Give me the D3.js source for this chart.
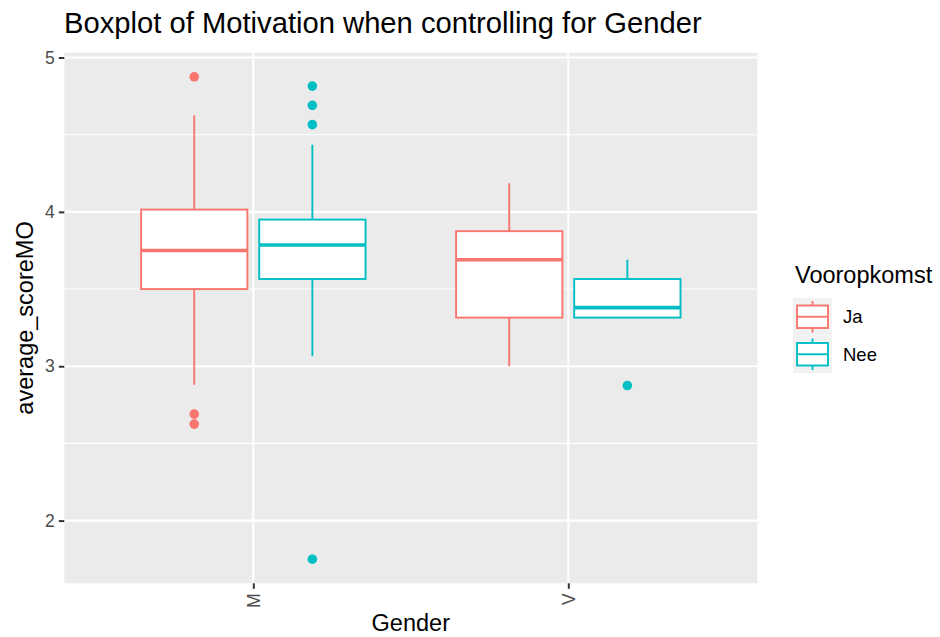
<!DOCTYPE html>
<html><head><meta charset="utf-8">
<script src="https://cdn.jsdelivr.net/npm/d3@7"></script>
<style>body{margin:0;background:#fff}svg{display:block}text{font-family:"Liberation Sans",Arial,Helvetica,sans-serif}</style>
</head><body><svg id="c" width="940" height="637"></svg>
<script>
const categories = ["M", "V"];
const groups = ["Ja", "Nee"];
const colors = ["#F8766D", "#00BFC4"];
// per group, per category
const lowerWhisker = [[2.88, 3.0], [3.065, 3.315]];
const q1 = [[3.5, 3.315], [3.565, 3.315]];
const median = [[3.75, 3.69], [3.785, 3.38]];
const q3 = [[4.015, 3.875], [3.95, 3.565]];
const upperWhisker = [[4.625, 4.185], [4.435, 3.69]];
const outliers = [[[4.875, 2.69, 2.625], []], [[4.815, 4.69, 4.565, 1.75], [2.875]]];
const yTicks = [2, 3, 4, 5];
const yMinor = [2.5, 3.5, 4.5];
const title = "Boxplot of Motivation when controlling for Gender";

const svg = d3.select("#c");
const P = {l: 64.3, r: 757.3, t: 52.7, b: 583.3};

const allVals = [];
groups.forEach((g, gi) => categories.forEach((c, ci) => {
  allVals.push(lowerWhisker[gi][ci], upperWhisker[gi][ci], ...outliers[gi][ci]);
}));
const ext = d3.extent(allVals);
const pad = (ext[1] - ext[0]) * 0.05;
const y = d3.scaleLinear().domain([ext[0] - pad, ext[1] + pad]).range([P.b, P.t]);
// discrete x: expansion 0.6 units each side
const unit = (P.r - P.l) / (categories.length - 1 + 1.2);
const xs = d3.scalePoint().domain(categories).range([P.l + 0.6 * unit, P.r - 0.6 * unit]);
const dodge = d3.scaleBand().domain(groups).range([-0.375 * unit, 0.375 * unit]).padding(0);
const slot = dodge.bandwidth();
const boxW = slot * 0.9;

svg.append("rect").attr("x", P.l).attr("y", P.t).attr("width", P.r - P.l).attr("height", P.b - P.t).attr("fill", "#EBEBEB");
const grid = svg.append("g");
yMinor.forEach(v => grid.append("line").attr("x1", P.l).attr("x2", P.r).attr("y1", y(v)).attr("y2", y(v)).attr("stroke", "#fff").attr("stroke-width", 1.1));
yTicks.forEach(v => grid.append("line").attr("x1", P.l).attr("x2", P.r).attr("y1", y(v)).attr("y2", y(v)).attr("stroke", "#fff").attr("stroke-width", 2.1));
categories.forEach(c => grid.append("line").attr("x1", xs(c)).attr("x2", xs(c)).attr("y1", P.t).attr("y2", P.b).attr("stroke", "#fff").attr("stroke-width", 2.1));

const marks = svg.append("g");
groups.forEach((g, gi) => categories.forEach((c, ci) => {
  const col = colors[gi];
  const cx = xs(c) + dodge(g) + slot / 2;
  const x0 = cx - boxW / 2;
  marks.append("line").attr("x1", cx).attr("x2", cx).attr("y1", y(upperWhisker[gi][ci])).attr("y2", y(q3[gi][ci])).attr("stroke", col).attr("stroke-width", 1.9);
  marks.append("line").attr("x1", cx).attr("x2", cx).attr("y1", y(q1[gi][ci])).attr("y2", y(lowerWhisker[gi][ci])).attr("stroke", col).attr("stroke-width", 1.9);
  marks.append("rect").attr("x", x0).attr("width", boxW).attr("y", y(q3[gi][ci])).attr("height", y(q1[gi][ci]) - y(q3[gi][ci])).attr("fill", "#fff").attr("stroke", col).attr("stroke-width", 1.9);
  marks.append("line").attr("x1", x0).attr("x2", x0 + boxW).attr("y1", y(median[gi][ci])).attr("y2", y(median[gi][ci])).attr("stroke", col).attr("stroke-width", 3.6);
  outliers[gi][ci].forEach(v => marks.append("circle").attr("cx", cx).attr("cy", y(v)).attr("r", 4.8).attr("fill", col));
}));

// axes
const yAxis = svg.append("g").attr("transform", `translate(${P.l},0)`)
  .call(d3.axisLeft(y).tickValues(yTicks).tickSize(5.5).tickPadding(4).tickFormat(d3.format("d")));
yAxis.select(".domain").remove();
yAxis.selectAll("line").attr("stroke", "#333").attr("stroke-width", 2);
yAxis.selectAll("text").attr("fill", "#4D4D4D").attr("font-size", 17.5).attr("font-family", "Liberation Sans, Arial, sans-serif");

const xAxis = svg.append("g").attr("transform", `translate(0,${P.b})`)
  .call(d3.axisBottom(xs).tickSize(5.5).tickPadding(4));
xAxis.select(".domain").remove();
xAxis.selectAll("line").attr("stroke", "#333").attr("stroke-width", 2);
xAxis.selectAll("text").attr("fill", "#4D4D4D").attr("font-size", 17.5).attr("font-family", "Liberation Sans, Arial, sans-serif")
  .attr("transform", "rotate(-90)").attr("text-anchor", "end").attr("dy", null).attr("dominant-baseline", "central")
  .attr("x", -10).attr("y", 0);

svg.append("text").attr("x", (P.l + P.r) / 2).attr("y", 631).attr("text-anchor", "middle").attr("font-size", 23.5).attr("fill", "#000").text("Gender");
svg.append("text").attr("transform", `translate(33,${(P.t + P.b) / 2}) rotate(-90)`).attr("text-anchor", "middle").attr("font-size", 23.5).attr("fill", "#000").text("average_scoreMO");
svg.append("text").attr("x", 64).attr("y", 33).attr("font-size", 29.2).attr("fill", "#000").text(title);

// legend
const L = {x: 793, y: 298, w: 39, h: 37.5};
const leg = svg.append("g");
leg.append("text").attr("x", 795).attr("y", 283).attr("font-size", 23.5).attr("fill", "#000").text("Vooropkomst");
groups.forEach((g, gi) => {
  const ky = L.y + gi * L.h;
  const col = colors[gi];
  leg.append("rect").attr("x", L.x).attr("y", ky).attr("width", L.w).attr("height", L.h).attr("fill", "#F2F2F2");
  const cx = L.x + L.w / 2;
  leg.append("line").attr("x1", cx).attr("x2", cx).attr("y1", ky + L.h * 0.08).attr("y2", ky + L.h * 0.92).attr("stroke", col).attr("stroke-width", 1.9);
  leg.append("rect").attr("x", L.x + 4).attr("width", L.w - 8).attr("y", ky + L.h * 0.2).attr("height", L.h * 0.6).attr("fill", "#fff").attr("stroke", col).attr("stroke-width", 1.9);
  leg.append("line").attr("x1", L.x + 4).attr("x2", L.x + L.w - 4).attr("y1", ky + L.h / 2).attr("y2", ky + L.h / 2).attr("stroke", col).attr("stroke-width", 1.9);
  leg.append("text").attr("x", 843).attr("y", ky + L.h / 2).attr("dy", "0.36em").attr("font-size", 18.5).attr("fill", "#000").text(g);
});
</script></body></html>
